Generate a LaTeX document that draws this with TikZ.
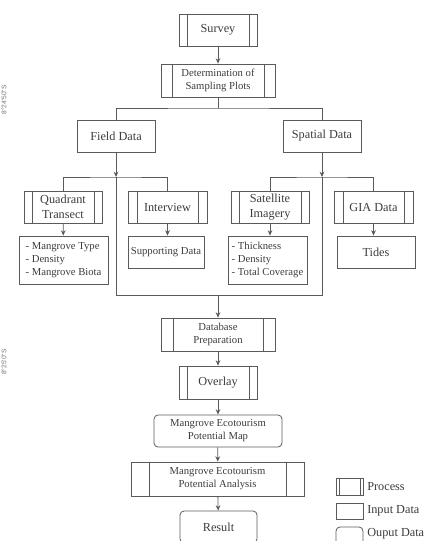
\documentclass[tikz,border=0pt]{standalone}
\usepackage{fontspec}
\setmainfont{Liberation Serif}
\newfontfamily\coordfont{Liberation Sans}
\usetikzlibrary{arrows.meta}
\definecolor{lc}{HTML}{5A5A5A}
\definecolor{tc}{HTML}{3C3C3C}
\tikzset{
  every node/.style={text=tc, inner sep=0pt},
  big/.style={font=\fontsize{9.2}{11.25}\selectfont},
  small/.style={font=\fontsize{8}{9.75}\selectfont},
  bx/.style 2 args={draw=lc, line width=0.6pt, minimum width=#1*0.75pt, minimum height=#2*0.75pt},
  proc/.style={path picture={\draw[lc, line width=0.6pt]
      ([xshift=#1]path picture bounding box.north west) -- ([xshift=#1]path picture bounding box.south west)
      ([xshift=-#1]path picture bounding box.north east) -- ([xshift=-#1]path picture bounding box.south east);}},
  outbox/.style={rounded corners=3pt},
  ln/.style={draw=lc, line width=0.6pt},
  arr/.style={ln, -{Stealth[length=4pt,width=3.5pt]}},
}
\begin{document}
\begin{tikzpicture}[x=0.75pt,y=-0.75pt]
\useasboundingbox (0,0) rectangle (435,541);
% margin coordinate labels
\node[rotate=90, text=black!55, font=\coordfont\fontsize{5}{6}\selectfont] (c1) at (4,100) {8°24'50"S};
\node[rotate=90, text=black!55, font=\coordfont\fontsize{5}{6}\selectfont] (c2) at (4,362) {8°25'0"S};

\node[bx={78}{32}, proc=6pt, big] (survey) at (218,30) {Survey};
\node[bx={114}{33}, proc=8.25pt, small, align=center] (determ) at (218,80.5) {Determination of\\Sampling Plots};
\node[bx={78}{32}, big] (field) at (116,136) {Field Data};
\node[bx={78}{32}, big] (spatial) at (322,136) {Spatial Data};

\node[bx={78}{32}, proc=6pt, big, align=center] (quad) at (63,207) {Quadrant\\Transect};
\node[bx={79}{32}, proc=6.75pt, big] (interview) at (167.5,207) {Interview};
\node[bx={78}{32}, proc=6pt, big, align=center] (satellite) at (270,207) {Satellite\\Imagery};
\node[bx={79}{32}, proc=6.75pt, big] (gia) at (373.5,207) {GIA Data};

\node[bx={89}{48}, small, align=left] (o1) at (63.5,260) {- Mangrove Type\\- Density\\- Mangrove Biota};
\node[bx={76}{32}, small] (o2) at (166,252) {Supporting Data};
\node[bx={79}{48}, small, align=left] (o3) at (267.5,260) {- Thickness\\- Density\\- Total Coverage};
\node[bx={78}{32}, big] (o4) at (376,252) {Tides};

\node[bx={114}{33}, proc=9pt, small, align=center] (dbprep) at (218,334.5) {Database\\Preparation};
\node[bx={78}{33}, proc=6pt, big] (overlay) at (218,382.5) {Overlay};
\node[bx={128}{32}, outbox, small, align=center] (map) at (218,431) {Mangrove Ecotourism\\Potential Map};
\node[bx={173}{34}, proc=13.5pt, small, align=center] (analysis) at (217.5,479) {Mangrove Ecotourism\\Potential Analysis};
\node[bx={77}{32}, outbox, big] (result) at (218.5,527) {Result};

% legend
\node[bx={27}{17}, proc=2.25pt] (lp) at (349.5,486.5) {};
\node[big, anchor=west] (lpt) at (367,486.5) {Process};
\node[bx={27}{16}] (li) at (349.5,511) {};
\node[big, anchor=west] (lit) at (367,511) {Input Data};
\node[bx={27}{18}, outbox] (lo) at (349.5,536) {};
\node[big, anchor=west] (lot) at (367,534) {Ouput Data};

% connectors
\coordinate (tj) at (218,108);
\coordinate (fb) at (116,177);
\coordinate (sb) at (322,177);
\coordinate (bl) at (116,295);
\coordinate (br) at (322,295);
\coordinate (bm) at (218,295);

\draw[arr] (survey) -- (determ);
\draw[ln] (determ.south) -- (tj);
\draw[ln] (field.north) |- (tj) -| (spatial.north);

\draw[arr] (field.south) -- (fb);
\draw[arr] (spatial.south) -- (sb);
\draw[ln] (quad.north) |- (fb) -| (interview.north);
\draw[ln] (satellite.north) |- (sb) -| (gia.north);

\draw[arr] (quad) -- (o1);
\draw[arr] (interview.south) -- (interview.south |- o2.north);
\draw[arr] (satellite.south) -- (satellite.south |- o3.north);
\draw[arr] (gia.south) -- (gia.south |- o4.north);

\draw[ln] (fb) -- (bl) -- (br) -- (sb);
\draw[arr] (bm) -- (dbprep.north);
\draw[arr] (dbprep) -- (overlay);
\draw[arr] (overlay) -- (map);
\draw[arr] (map) -- (analysis);
\draw[arr] (analysis) -- (result);
\end{tikzpicture}
\end{document}
